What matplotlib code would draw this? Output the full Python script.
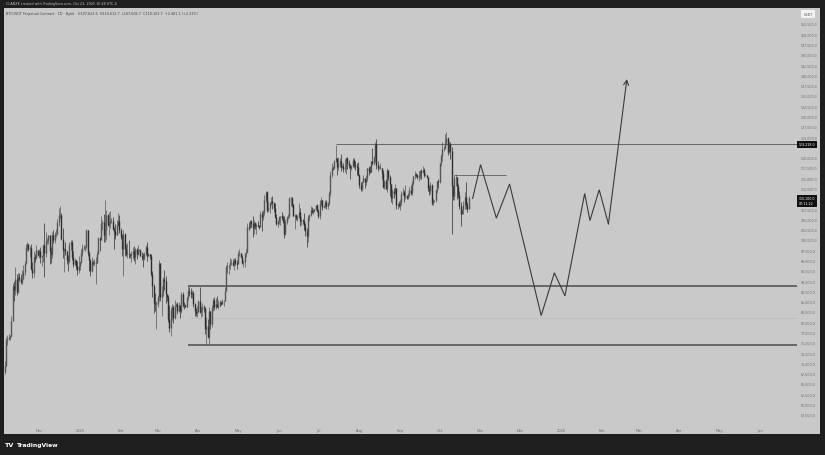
import datetime as dt
import numpy as np
import matplotlib
matplotlib.use("Agg")
import matplotlib.pyplot as plt
import matplotlib.dates as mdates
from matplotlib.patches import Rectangle
from matplotlib.ticker import FuncFormatter, FixedLocator

# ---------------- data (BTCUSDT perpetual, daily, thousands of USDT) ----------------
first_day = dt.date(2024, 11, 5)
first_open = 67.8

close_nov = [69.4,75.6,75.9,76.5,76.7,80.4,88.7,87.9,90.5,87.3,91.1,90.6,89.8,90.5,92.3,94.3,98.3,98.9,97.8,98.0,93.0,91.9,95.9,95.6,97.5,96.4]
high_nov = [70.5,76.4,76.9,77.2,76.9,81.5,89.6,89.9,93.3,91.8,91.9,91.9,91.7,92.6,94.0,94.9,98.9,99.6,98.9,98.6,98.9,94.7,97.2,96.6,98.7,97.5]
low_nov = [67.5,69.3,74.4,75.6,75.7,76.5,80.2,85.1,86.6,86.6,87.1,90.0,89.2,89.4,90.4,91.5,94.1,97.2,97.2,95.8,92.6,90.8,91.0,94.6,95.4,96.0]

close_dec = [97.3,95.9,96.0,98.7,96.9,99.8,99.9,101.1,97.3,96.6,101.1,100.0,101.4,101.4,104.3,106.0,106.1,100.2,97.5,97.8,97.2,95.2,94.9,98.7,99.4,95.8,94.2,95.1,93.7,92.8,93.6]
high_dec = [97.9,98.2,96.3,99.0,104.0,101.9,100.5,101.3,101.3,98.3,101.9,102.5,101.9,102.6,105.2,107.8,108.3,106.5,102.8,98.1,99.5,97.4,96.4,99.4,99.9,99.9,97.3,95.5,95.2,94.9,96.1]
low_dec = [95.7,94.4,93.6,94.7,91.0,95.9,98.9,98.9,94.2,94.3,95.7,99.3,99.2,100.6,101.2,103.3,105.3,100.0,95.6,92.2,96.4,94.2,92.4,94.4,97.6,95.2,93.5,94.0,93.0,91.5,92.0]

close_jan = [94.6,96.9,98.1,98.2,98.3,102.3,96.9,95.0,92.5,94.7,94.5,94.5,94.5,96.5,100.5,99.9,104.1,104.4,101.3,102.3,106.1,103.7,104.1,104.7,104.7,102.6,102.1,101.3,103.7,104.7,102.4]
high_jan = [94.9,97.8,98.9,98.7,98.8,102.7,102.5,97.3,95.3,95.8,95.0,95.3,95.9,97.4,100.7,100.8,105.9,104.9,106.3,109.6,107.2,106.3,106.8,107.1,105.3,105.5,103.2,103.8,104.8,106.5,106.0]
low_jan = [92.8,94.4,96.0,97.5,97.3,97.9,96.1,92.5,91.2,92.2,93.8,93.7,89.2,94.3,96.5,97.3,99.9,102.3,99.5,99.6,100.1,103.3,101.2,102.8,104.1,102.5,97.8,100.3,101.3,103.3,101.6]

close_feb = [100.6,97.7,101.4,97.8,96.6,96.6,96.5,96.4,96.5,97.4,95.8,97.9,96.6,97.5,97.6,96.1,95.8,95.5,96.6,98.3,96.2,96.6,96.2,91.6,88.7,84.7,84.4,84.4]
high_feb = [102.8,101.4,102.5,101.7,99.0,99.2,100.1,96.9,97.3,98.3,98.5,98.1,98.0,98.8,97.9,97.7,97.0,96.7,97.0,98.7,99.5,96.9,96.5,96.5,92.5,89.3,87.1,85.1]
low_feb = [100.3,96.2,91.2,96.2,96.2,95.7,95.7,95.7,94.7,95.3,94.9,94.1,95.3,96.3,97.2,96.0,95.2,93.4,95.2,96.4,94.9,96.1,95.3,91.2,86.1,82.3,82.8,78.3]

close_mar = [86.1,94.3,86.1,87.2,90.6,89.9,86.8,86.2,80.7,78.6,82.9,83.7,81.1,84.0,84.3,82.6,84.1,82.7,86.8,84.2,84.1,83.8,86.1,87.5,87.4,86.9,87.2,84.3,82.6,82.3,82.5]
high_mar = [86.6,95.0,94.4,88.9,91.0,92.8,91.2,86.9,86.5,84.1,83.6,84.4,84.2,85.3,84.7,85.0,84.8,84.1,87.4,87.4,85.0,84.5,86.2,88.7,88.5,88.3,87.8,87.5,84.6,83.5,83.9]
low_mar = [83.7,85.1,85.1,81.5,86.4,87.8,84.7,85.2,80.0,77.5,76.6,80.6,79.9,80.8,83.6,82.0,82.4,81.1,82.3,83.7,83.2,83.6,83.7,85.5,86.3,85.9,85.8,83.6,81.6,81.6,81.3]

close_apr = [85.2,82.5,83.1,83.8,83.5,78.4,79.1,76.3,82.6,79.6,83.4,85.3,83.7,84.5,83.7,84.0,84.9,84.4,85.1,85.2,87.5,93.4,93.7,93.9,94.6,94.6,93.8,95.0,94.3,94.2]
high_apr = [85.5,88.5,83.9,84.7,84.2,83.8,81.2,80.8,83.6,82.6,84.2,85.9,86.1,85.8,86.4,85.5,85.4,85.1,85.6,85.3,88.5,93.9,94.7,94.0,95.7,95.3,95.3,95.6,95.5,95.2]
low_apr = [82.4,82.3,81.2,81.6,82.4,77.2,74.4,76.2,74.6,78.3,78.9,82.7,83.0,83.2,83.6,83.1,83.9,84.2,84.3,83.9,85.1,87.6,91.9,91.7,92.9,93.9,93.6,92.8,93.8,92.9]

close_may = [96.5,96.9,95.9,94.3,94.7,96.8,97.0,103.2,102.9,104.6,104.1,102.8,104.1,103.5,103.7,103.5,103.2,106.4,105.6,106.8,109.6,111.7,107.3,107.8,109.0,109.4,108.9,107.8,105.6,103.9,104.6]
high_may = [97.4,97.9,96.9,96.3,95.2,96.9,97.7,104.1,104.3,104.9,104.9,105.8,104.9,104.3,104.2,104.6,103.7,107.1,107.1,107.3,110.8,112.0,111.9,109.5,109.3,110.4,110.7,109.3,108.9,106.3,104.9]
low_may = [94.1,96.0,95.7,94.1,93.5,93.4,95.8,96.9,102.3,102.8,103.1,100.8,101.4,102.6,101.4,103.1,102.6,103.1,102.1,104.9,106.1,109.3,106.7,106.9,106.6,108.6,107.6,106.9,105.3,103.6,103.1]

close_jun = [105.6,105.8,105.4,104.7,101.5,104.3,105.6,105.7,110.2,110.2,108.7,105.9,106.0,105.4,105.6,106.9,104.5,104.8,104.7,103.3,102.1,100.9,105.6,106.1,107.3,106.9,107.1,107.4,108.4,107.1]
high_jun = [105.8,105.9,106.8,106.0,105.9,105.0,105.9,106.4,110.5,110.4,110.4,108.8,106.2,106.2,106.0,108.9,107.7,105.6,105.2,106.5,104.0,103.0,106.0,106.3,108.2,108.0,107.7,107.6,108.5,108.8]
low_jun = [103.9,103.7,104.9,104.2,100.4,101.1,103.9,105.1,105.3,108.3,108.1,105.7,102.7,104.8,104.5,105.4,103.3,103.6,103.9,102.3,101.0,98.2,99.6,104.6,105.9,106.5,106.3,106.9,107.2,106.8]

close_jul = [105.7,108.8,109.6,108.0,108.2,109.2,108.3,108.9,111.3,115.9,117.5,117.4,119.1,119.8,117.7,118.8,119.3,117.8,117.9,117.3,117.4,119.9,118.6,118.3,117.6,117.9,119.4,118.1,117.9,117.8,115.8]
high_jul = [107.5,109.7,110.5,109.8,108.4,109.7,109.7,109.2,111.9,116.8,118.8,118.0,119.5,123.2,119.9,120.1,120.0,120.8,118.3,118.8,119.7,120.2,120.1,119.5,118.5,118.3,119.8,119.8,119.3,118.8,118.9]
low_jul = [105.3,105.1,108.6,107.3,107.8,107.8,107.5,107.4,108.4,110.6,115.2,116.9,117.3,118.9,115.7,117.0,117.8,116.8,117.4,116.6,116.5,116.1,117.3,117.4,114.8,117.1,117.8,117.4,116.9,115.8,115.5]

close_aug = [113.3,112.5,114.2,115.0,114.1,115.0,117.5,116.7,116.5,119.3,118.7,120.2,123.3,118.3,117.4,117.5,117.5,116.3,112.9,114.3,112.5,116.9,115.4,113.5,110.1,111.8,111.3,112.6,108.4,108.8,108.3]
high_aug = [116.1,114.0,114.4,115.7,115.0,115.7,117.6,117.9,117.9,119.3,122.3,120.3,123.7,124.5,119.2,117.9,118.6,117.6,117.0,114.6,114.8,117.4,117.0,115.7,113.7,112.4,112.7,113.5,112.7,108.9,109.5]
low_aug = [112.7,112.0,112.0,114.1,112.7,113.3,114.3,115.9,116.3,116.5,118.1,118.2,118.9,117.2,116.8,117.2,117.3,114.7,112.7,112.4,112.4,111.7,114.6,110.6,109.3,108.7,110.3,110.9,107.5,107.5,108.1]

close_sep = [109.2,111.2,111.7,110.7,110.7,110.2,111.1,112.1,111.5,113.9,115.5,116.0,115.9,115.3,115.4,116.8,116.5,117.1,115.7,115.7,115.3,112.7,112.0,113.3,109.0,109.6,109.6,112.1,114.3,114.0]
high_sep = [109.9,111.8,112.6,112.2,113.4,110.9,111.5,112.9,113.3,114.3,115.5,116.7,116.3,116.1,116.8,117.0,117.3,117.9,117.4,116.2,115.8,115.4,113.3,114.0,113.5,110.3,109.8,112.3,114.4,114.8]
low_sep = [107.3,108.6,110.8,109.3,110.0,109.9,110.0,110.6,110.9,110.9,113.4,114.7,115.2,114.8,114.4,114.8,114.7,116.2,115.2,115.5,115.1,111.9,111.0,111.1,108.6,108.6,109.1,109.3,111.5,112.6]

close_oct = [118.6,120.5,122.2,122.4,123.5,124.7,121.4,123.3,121.6,113.0,110.7,115.1,115.2,113.1,110.8,108.2,106.4,107.2,108.6,110.5,108.4,107.6,110.1]
high_oct = [118.6,121.0,123.9,122.9,125.8,126.2,125.0,124.1,123.8,122.5,113.4,115.9,116.0,115.4,113.6,111.8,109.2,107.5,109.4,111.7,114.0,109.2,110.6]
low_oct = [113.9,118.0,119.3,121.6,122.1,123.1,120.6,121.1,119.6,101.5,109.6,109.8,113.0,110.0,110.2,107.5,103.5,106.4,106.2,107.5,107.5,106.9,107.6]

# drawn levels (thousands) and where they start
level_top = 123.218          # Jul 14 high ray
level_top_start = dt.date(2025, 7, 14)
level_mid = 88.75            # range-high ray
level_low = 74.36            # April low ray
level_faint = 81.1
levels_start = dt.date(2025, 3, 24)
level_short = 115.8
level_short_span = (dt.date(2025, 10, 12), dt.date(2025, 11, 20))

# projected path
proj_dates = [dt.date(2025,10,26), dt.date(2025,11,1), dt.date(2025,11,13), dt.date(2025,11,23),
              dt.date(2025,12,17), dt.date(2025,12,27), dt.date(2026,1,4), dt.date(2026,1,19),
              dt.date(2026,1,23), dt.date(2026,1,30), dt.date(2026,2,6), dt.date(2026,2,20)]
proj_prices = [110.1, 118.3, 105.3, 113.6, 81.6, 92.0, 86.4, 111.3, 104.7, 112.2, 103.9, 139.1]

# price axis labels (those under the two price boxes are covered in the original)
price_ticks = [57500, 60000, 62500, 65000, 67500, 70000, 72500, 75000, 77500, 80000, 82500, 85000,
               87500, 90000, 92500, 95000, 97500, 100000, 102500, 105000, 107500, 112500, 115000,
               117500, 120000, 125000, 127500, 130000, 132500, 135000, 137500, 140000, 142500,
               145000, 147500, 150000, 152500]

# time axis
month_ticks = [dt.date(2024,12,1), dt.date(2025,1,1), dt.date(2025,2,1), dt.date(2025,3,1), dt.date(2025,4,1),
               dt.date(2025,5,1), dt.date(2025,6,1), dt.date(2025,7,1), dt.date(2025,8,1), dt.date(2025,9,1),
               dt.date(2025,10,1), dt.date(2025,11,1), dt.date(2025,12,1), dt.date(2026,1,1), dt.date(2026,2,1),
               dt.date(2026,3,1), dt.date(2026,4,1), dt.date(2026,5,1), dt.date(2026,6,1)]
month_labels = ["Dec","2025","Feb","Mar","Apr","May","Jun","Jul","Aug","Sep","Oct","Nov","Dec","2026",
                "Feb","Mar","Apr","May","Jun"]

header_text = "CLANXE created with TradingView.com, Oct 23, 2025 16:48 UTC-4"
title_text = "BTCUSDT Perpetual Contract · 1D · Bybit   O107,622.6  H110,612.7  L107,606.7  C110,103.7  +2,481.1 (+2.31%)"
countdown = "07:11:22"

# ---------------- assemble ----------------
closes = (close_nov + close_dec + close_jan + close_feb + close_mar + close_apr + close_may +
          close_jun + close_jul + close_aug + close_sep + close_oct)
highs = (high_nov + high_dec + high_jan + high_feb + high_mar + high_apr + high_may +
         high_jun + high_jul + high_aug + high_sep + high_oct)
lows = (low_nov + low_dec + low_jan + low_feb + low_mar + low_apr + low_may +
        low_jun + low_jul + low_aug + low_sep + low_oct)
opens = [first_open] + closes[:-1]
days = [first_day + dt.timedelta(days=i) for i in range(len(closes))]
x = mdates.date2num(days)
K = 1000.0

W, H = 825, 456
fig = plt.figure(figsize=(W / 100, H / 100), dpi=100, facecolor="#1f1f1f")

# gray chart panel
fig.add_artist(Rectangle((4 / W, 1 - 435 / H), (820 - 4) / W, (435 - 9) / H,
                         transform=fig.transFigure, facecolor="#c9c9c9", edgecolor="none", zorder=0))

ax = fig.add_axes([4 / W, 1 - 423 / H, (797 - 4) / W, (423 - 9) / H])
ax.set_facecolor("none")
for s in ax.spines.values():
    s.set_visible(False)

dec1 = mdates.date2num(dt.date(2024, 12, 1))
px_per_day = 721 / 547
ax.set_xlim(dec1 - 35 / px_per_day, dec1 + 758 / px_per_day)
px_per_2500 = (415.7 - 25) / 38
ax.set_ylim((152.5 - (423 - 25) / px_per_2500 * 2.5) * K, (152.5 + 16 / px_per_2500 * 2.5) * K)

# candles
up_col, dn_col = "#555555", "#2c2c2c"
for xi, o, h, l, c in zip(x, opens, highs, lows, closes):
    col = up_col if c >= o else dn_col
    lo, hi = min(l, o, c), max(h, o, c)
    ax.vlines(xi, lo * K, hi * K, color=col, lw=0.5, zorder=3)
    b0, b1 = min(o, c), max(o, c)
    if b1 - b0 < 0.15:
        b1 = b0 + 0.15
    ax.vlines(xi, b0 * K, b1 * K, color=col, lw=1.0, zorder=3)

xr = ax.get_xlim()[1]
# horizontal levels
ax.hlines(level_top * K, mdates.date2num(level_top_start), xr, color="#6a6a6a", lw=0.75, zorder=2)
ax.hlines(level_mid * K, mdates.date2num(levels_start), xr, color="#4d4d4d", lw=1.1, zorder=2)
ax.hlines(level_low * K, mdates.date2num(levels_start), xr, color="#4d4d4d", lw=1.1, zorder=2)
ax.hlines(level_faint * K, mdates.date2num(levels_start), xr, color="#bfbfbf", lw=0.7, zorder=1)
ax.hlines(level_short * K, mdates.date2num(level_short_span[0]), mdates.date2num(level_short_span[1]),
          color="#6e6e6e", lw=0.7, zorder=2)

# projection path
px_ = mdates.date2num(proj_dates)
py_ = [p * K for p in proj_prices]
ax.plot(px_[:-1], py_[:-1], color="#3a3a3a", lw=0.8, zorder=4, solid_joinstyle="miter")
ax.annotate("", xy=(px_[-1], py_[-1]), xytext=(px_[-2], py_[-2]),
            arrowprops=dict(arrowstyle="->,head_length=0.35,head_width=0.18", color="#3a3a3a", lw=0.8,
                            shrinkA=0, shrinkB=0), zorder=4)

# price axis
ax.yaxis.tick_right()
ax.yaxis.set_major_locator(FixedLocator(price_ticks))
ax.yaxis.set_major_formatter(FuncFormatter(lambda v, p: f"{v:,.1f}"))
ax.tick_params(axis="y", length=0, pad=2.6, labelsize=2.3, labelcolor="#6a6a6a")

# time axis
ax.set_xticks(mdates.date2num(month_ticks))
ax.set_xticklabels(month_labels)
ax.tick_params(axis="x", length=0, pad=4.2, labelsize=2.6, labelcolor="#6a6a6a")

# price boxes
ax.annotate(f"{level_top * K:,.1f}", xy=(1.0, level_top * K), xycoords=("axes fraction", "data"),
            xytext=(1.2, 0), textcoords="offset points", ha="left", va="center", fontsize=2.3,
            color="white", annotation_clip=False, zorder=6,
            bbox=dict(boxstyle="square,pad=0.45", fc="#111111", ec="none"))
ax.annotate(f"{closes[-1] * K:,.1f}\n{countdown}", xy=(1.0, closes[-1] * K - 600), xycoords=("axes fraction", "data"),
            xytext=(1.2, 0), textcoords="offset points", ha="left", va="center", fontsize=2.3,
            color="white", annotation_clip=False, zorder=6, linespacing=1.3,
            bbox=dict(boxstyle="square,pad=0.45", fc="#111111", ec="none"))
fig.text(808 / W, 1 - 15 / H, "USDT", fontsize=2.4, color="#555555", ha="center", va="center",
         bbox=dict(boxstyle="square,pad=0.6", fc="#f2f2f2", ec="none"))

# header / title / logo
fig.text(6 / W, 1 - 4.5 / H, header_text, fontsize=2.4, color="#bdbdbd", ha="left", va="center")
fig.text(6 / W, 1 - 14 / H, title_text, fontsize=2.4, color="#444444", ha="left", va="center")
fig.text(5 / W, 1 - 445.5 / H, "TV", fontsize=4.6, color="white", fontweight="bold", ha="left", va="center")
fig.text(17 / W, 1 - 445.5 / H, "TradingView", fontsize=4.3, color="white", fontweight="bold",
         ha="left", va="center")

fig.savefig("out.png", dpi=100, facecolor=fig.get_facecolor())
